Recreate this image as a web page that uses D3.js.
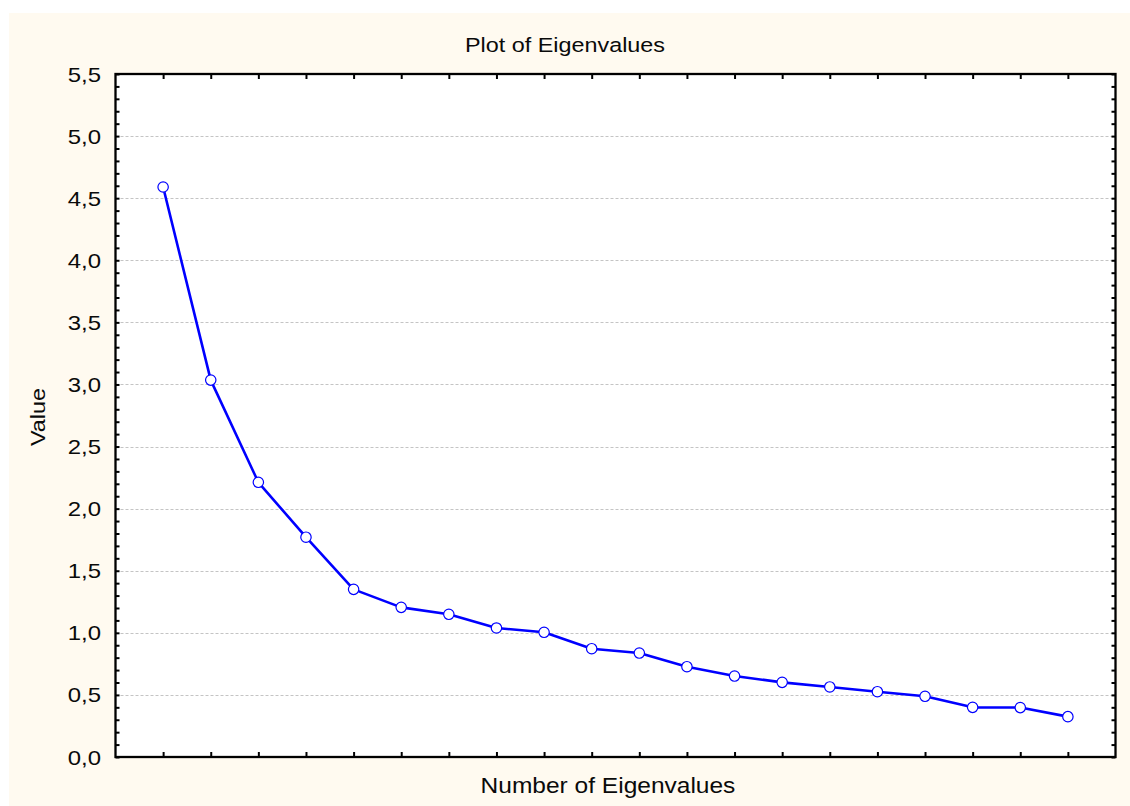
<!DOCTYPE html>
<html>
<head>
<meta charset="utf-8">
<script src="https://cdn.jsdelivr.net/npm/d3@7"></script>
<style>
html,body{margin:0;padding:0;background:#ffffff;}
svg{display:block;}
text{font-family:"Liberation Sans",Arial,sans-serif;fill:#0a0a0a;}
</style>
</head>
<body>
<svg id="chart" width="1130" height="806"></svg>
<script>
const title = "Plot of Eigenvalues";
const xLabel = "Number of Eigenvalues";
const yLabel = "Value";
const eigenNumbers = [1,2,3,4,5,6,7,8,9,10,11,12,13,14,15,16,17,18,19,20];
const eigenValues = [4.59,3.035,2.212,1.77,1.35,1.205,1.149,1.039,1.004,0.872,0.837,0.727,0.652,0.601,0.564,0.526,0.489,0.400,0.398,0.325];
const yTicks = [0,0.5,1,1.5,2,2.5,3,3.5,4,4.5,5,5.5];
const yMinorTicks = d3.range(0,56).map(i=>i/10);
const xTicks = eigenNumbers;

const svg = d3.select("#chart");
const W = 1130, H = 806;
const stretch = 1.14;
const m = {left:115.5, right:1115.5, top:74, bottom:757};

svg.append("rect").attr("x",9).attr("y",13).attr("width",W-9).attr("height",H-13).attr("fill","#FFFAF0");
svg.append("rect").attr("x",m.left).attr("y",m.top).attr("width",m.right-m.left).attr("height",m.bottom-m.top).attr("fill","#ffffff");

const x = d3.scaleLinear().domain([0,21]).range([m.left,m.right]);
const y = d3.scaleLinear().domain([0,5.5]).range([m.bottom,m.top]);

// grid
svg.append("g").selectAll("line").data(yTicks.filter(d=>d>0&&d<5.5)).join("line")
  .attr("x1",m.left).attr("x2",m.right).attr("y1",d=>Math.round(y(d))+0.5).attr("y2",d=>Math.round(y(d))+0.5)
  .attr("stroke","#c4c4c4").attr("stroke-width",1).attr("stroke-dasharray","3,2");

function styleAxis(g){
  g.select(".domain").remove();
  g.selectAll(".tick line").attr("stroke","#000").attr("stroke-width",2);
}
const gl = svg.append("g").attr("transform",`translate(${m.left},0)`)
  .call(d3.axisRight(y).tickValues(yMinorTicks).tickSize(4).tickFormat(""));
styleAxis(gl);
const gr = svg.append("g").attr("transform",`translate(${m.right},0)`)
  .call(d3.axisLeft(y).tickValues(yMinorTicks).tickSize(4).tickFormat(""));
styleAxis(gr);
const gb = svg.append("g").attr("transform",`translate(0,${m.bottom})`)
  .call(d3.axisTop(x).tickValues(xTicks).tickSize(5).tickFormat(""));
styleAxis(gb);
const gt = svg.append("g").attr("transform",`translate(0,${m.top})`)
  .call(d3.axisBottom(x).tickValues(xTicks).tickSize(5).tickFormat(""));
styleAxis(gt);

svg.append("rect").attr("x",m.left).attr("y",m.top).attr("width",m.right-m.left).attr("height",m.bottom-m.top)
  .attr("fill","none").attr("stroke","#000").attr("stroke-width",2.3);

const fmt = d => d3.format(".1f")(d).replace(".",",");
svg.append("g").selectAll("text").data(yTicks).join("text")
  .attr("x",101).attr("y",d=>y(d)).attr("dy","0.36em").attr("text-anchor","end")
  .attr("font-size",21).attr("class","st").text(fmt);

const line = d3.line().x((d,i)=>x(eigenNumbers[i])).y(d=>y(d));
svg.append("path").datum(eigenValues).attr("d",line).attr("fill","none")
  .attr("stroke","#0000FF").attr("stroke-width",2.6).attr("stroke-linejoin","round");
svg.append("g").selectAll("circle").data(eigenValues).join("circle")
  .attr("cx",(d,i)=>x(eigenNumbers[i])).attr("cy",d=>y(d)).attr("r",5.2)
  .attr("fill","#fff").attr("stroke","#0000FF").attr("stroke-width",1.2);

svg.append("text").attr("x",565).attr("y",51.5).attr("text-anchor","middle").attr("font-size",20.5).attr("class","st").text(title);
svg.append("text").attr("x",608).attr("y",792.5).attr("text-anchor","middle").attr("font-size",21.5).attr("class","st").text(xLabel);
svg.append("text").attr("transform","translate(44.5,417) rotate(-90)").attr("text-anchor","middle").attr("font-size",20.5).attr("class","st").text(yLabel);

svg.selectAll("text.st").each(function(){
  const len = this.getComputedTextLength();
  d3.select(this).attr("textLength",len*stretch).attr("lengthAdjust","spacingAndGlyphs");
});
</script>
</body>
</html>
